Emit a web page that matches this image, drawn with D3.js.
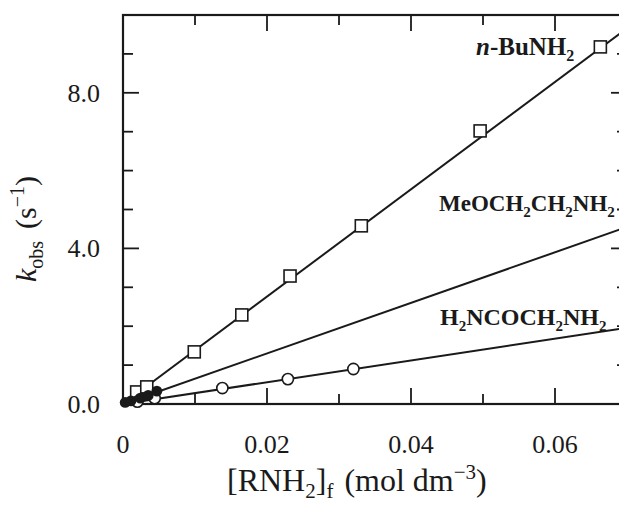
<!DOCTYPE html>
<html>
<head>
<meta charset="utf-8">
<script src="https://cdn.jsdelivr.net/npm/d3@7/dist/d3.min.js"></script>
<style>
body { margin: 0; background: #fff; overflow: hidden; }
text { font-family: "Liberation Serif", "DejaVu Serif", serif; fill: #1a1a1a; }
</style>
</head>
<body>
<div id="chart"></div>
<script>
// n-BuNH2 (open squares)
var buX = [0.0019, 0.0033, 0.0099, 0.0165, 0.0232, 0.0331, 0.0496, 0.0663];
var buY = [0.31, 0.44, 1.34, 2.29, 3.29, 4.58, 7.02, 9.18];
// MeOCH2CH2NH2 (filled circles)
var meoX = [0.0003, 0.0011, 0.0024, 0.0035, 0.0047];
var meoY = [0.04, 0.08, 0.15, 0.22, 0.33];
// H2NCOCH2NH2 (open circles)
var amideX = [0.0020, 0.0044, 0.0138, 0.0229, 0.0320];
var amideY = [0.06, 0.15, 0.41, 0.64, 0.90];
// slopes of the fitted lines through the origin
var slopes = [138, 65, 28];

var xTicks = [0, 0.02, 0.04, 0.06];
var xTickLabels = ['0', '0.02', '0.04', '0.06'];
var xMinor = [0.01, 0.02, 0.03, 0.04, 0.05, 0.06];
var yTicks = [0, 4, 8];
var yTickLabels = ['0.0', '4.0', '8.0'];
var yMinor = [1, 2, 3, 4, 5, 6, 7, 8, 9];

var width = 619, height = 506;
var plotL = 123, plotR = 627, plotT = 15, plotB = 404;
var majorLen = 16, minorLen = 10;

var x = d3.scaleLinear().domain([0, 0.07]).range([plotL, plotR]);
var y = d3.scaleLinear().domain([0, 10]).range([plotB, plotT]);

var svg = d3.select('#chart')
    .append('svg')
    .attr('width', width)
    .attr('height', height);

//frame
svg.append('rect')
    .attr('x', plotL)
    .attr('y', plotT)
    .attr('width', plotR - plotL)
    .attr('height', plotB - plotT)
    .attr('fill', 'none')
    .attr('stroke', '#1a1a1a')
    .attr('stroke-width', 2.2);

//ticks on all four sides, pointing inward
function isMajorX(v) { return xTicks.some(function (t) { return Math.abs(t - v) < 1e-9; }); }
function isMajorY(v) { return yTicks.indexOf(v) >= 0; }

var ticks = svg.append('g').attr('stroke', '#1a1a1a').attr('stroke-width', 1.8);
xMinor.forEach(function (v) {
    var len = isMajorX(v) ? majorLen : minorLen;
    ticks.append('line').attr('x1', x(v)).attr('x2', x(v)).attr('y1', plotB).attr('y2', plotB - len);
    ticks.append('line').attr('x1', x(v)).attr('x2', x(v)).attr('y1', plotT).attr('y2', plotT + len);
});
yMinor.forEach(function (v) {
    var len = isMajorY(v) ? majorLen : minorLen;
    ticks.append('line').attr('y1', y(v)).attr('y2', y(v)).attr('x1', plotL).attr('x2', plotL + len);
    ticks.append('line').attr('y1', y(v)).attr('y2', y(v)).attr('x1', plotR).attr('x2', plotR - len);
});

//tick labels
svg.append('g').selectAll('text')
    .data(xTicks)
    .enter().append('text')
    .attr('x', function (d) { return x(d); })
    .attr('y', 453)
    .attr('text-anchor', 'middle')
    .style('font-size', '26px')
    .text(function (d, i) { return xTickLabels[i]; });

svg.append('g').selectAll('text')
    .data(yTicks)
    .enter().append('text')
    .attr('x', 100)
    .attr('y', function (d) { return y(d) + 9; })
    .attr('text-anchor', 'end')
    .style('font-size', '26px')
    .text(function (d, i) { return yTickLabels[i]; });

//fitted lines
var lines = svg.append('g');
slopes.forEach(function (s) {
    lines.append('line')
        .attr('x1', x(0)).attr('y1', y(0))
        .attr('x2', x(0.07)).attr('y2', y(0.07 * s))
        .attr('stroke', '#1a1a1a')
        .attr('stroke-width', 2);
});

//markers
var sq = 12;
svg.append('g').selectAll('rect')
    .data(buX)
    .enter().append('rect')
    .attr('x', function (d) { return x(d) - sq / 2; })
    .attr('y', function (d, i) { return y(buY[i]) - sq / 2; })
    .attr('width', sq)
    .attr('height', sq)
    .attr('fill', '#fff')
    .attr('stroke', '#1a1a1a')
    .attr('stroke-width', 1.6);

svg.append('g').selectAll('circle')
    .data(amideX)
    .enter().append('circle')
    .attr('cx', function (d) { return x(d); })
    .attr('cy', function (d, i) { return y(amideY[i]); })
    .attr('r', 5.6)
    .attr('fill', '#fff')
    .attr('stroke', '#1a1a1a')
    .attr('stroke-width', 1.6);

svg.append('g').selectAll('circle')
    .data(meoX)
    .enter().append('circle')
    .attr('cx', function (d) { return x(d); })
    .attr('cy', function (d, i) { return y(meoY[i]); })
    .attr('r', 5.4)
    .attr('fill', '#1a1a1a');

//series labels
function chem(xp, yp, size, parts) {
    var t = svg.append('text')
        .attr('x', xp)
        .attr('y', yp)
        .style('font-size', size + 'px')
        .style('font-weight', 'bold');
    parts.forEach(function (p) {
        var s = t.append('tspan').text(p[0]);
        if (p[1] === 'sub') s.attr('dy', 6).style('font-size', Math.round(size * 0.64) + 'px');
        if (p[1] === 'up') s.attr('dy', -6);
        if (p[1] === 'it') s.style('font-style', 'italic');
    });
    return t;
}
chem(476, 55, 25, [['n', 'it'], ['-BuNH'], ['2', 'sub']]);
chem(439, 211, 23, [['MeOCH'], ['2', 'sub'], ['CH', 'up'], ['2', 'sub'], ['NH', 'up'], ['2', 'sub']]);
chem(440, 325, 24, [['H'], ['2', 'sub'], ['NCOCH', 'up'], ['2', 'sub'], ['NH', 'up'], ['2', 'sub']]);

//axis titles
var xt = svg.append('text')
    .attr('x', 227)
    .attr('y', 491)
    .style('font-size', '32px');
xt.append('tspan').text('[RNH');
xt.append('tspan').text('2').attr('dy', 7).style('font-size', '21px');
xt.append('tspan').text(']').attr('dy', -7);
xt.append('tspan').text('f').attr('dy', 7).style('font-size', '21px');
xt.append('tspan').text(' (mol dm').attr('dy', -7).attr('dx', 3);
xt.append('tspan').text('\u22123').attr('dy', -12).style('font-size', '21px');
xt.append('tspan').text(')').attr('dy', 12);

var yt = svg.append('text')
    .attr('transform', 'translate(36,282) rotate(-90)')
    .style('font-size', '30px');
yt.append('tspan').text('k').style('font-style', 'italic');
yt.append('tspan').text('obs').attr('dy', 7).style('font-size', '20px');
yt.append('tspan').text('(s').attr('dy', -7).attr('dx', 12);
yt.append('tspan').text('\u22121').attr('dy', -12).style('font-size', '20px');
yt.append('tspan').text(')').attr('dy', 12);
</script>
</body>
</html>
